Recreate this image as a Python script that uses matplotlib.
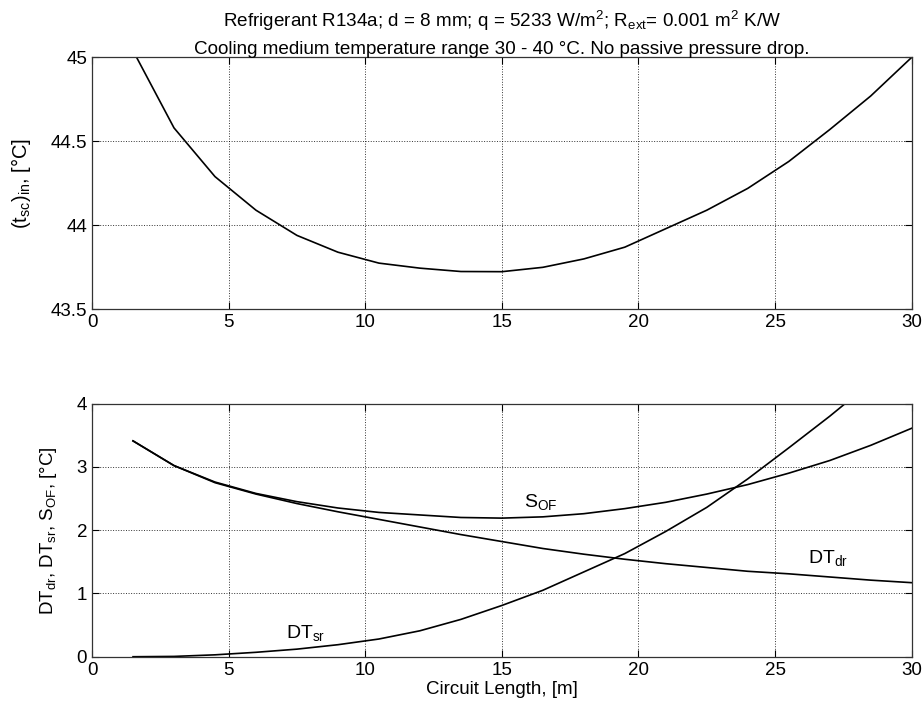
import numpy as np
import matplotlib
matplotlib.use('Agg')
import matplotlib.pyplot as plt

plt.rcParams['font.family'] = ['Liberation Sans', 'DejaVu Sans']
plt.rcParams['mathtext.fontset'] = 'custom'
plt.rcParams['mathtext.rm'] = 'Liberation Sans'
plt.rcParams['mathtext.it'] = 'Liberation Sans'
plt.rcParams['mathtext.default'] = 'regular'

# circuit length steps [m]
length = [1.5, 3.0, 4.5, 6.0, 7.5, 9.0, 10.5, 12.0, 13.5, 15.0,
          16.5, 18.0, 19.5, 21.0, 22.5, 24.0, 25.5, 27.0, 28.5, 30.0]

# subcooler inlet temperature [C]
t_sc_in = [45.04, 44.58, 44.29, 44.09, 43.94, 43.84, 43.775, 43.745, 43.725, 43.724,
           43.75, 43.80, 43.87, 43.98, 44.09, 44.22, 44.38, 44.57, 44.77, 45.0]

# temperature differences [C]
dt_dr = [3.41, 3.02, 2.75, 2.57, 2.42, 2.29, 2.17, 2.05, 1.93, 1.82,
         1.71, 1.62, 1.54, 1.47, 1.41, 1.35, 1.31, 1.26, 1.21, 1.17]
dt_sr = [0.0, 0.005, 0.03, 0.07, 0.12, 0.19, 0.28, 0.41, 0.59, 0.81,
         1.05, 1.34, 1.63, 1.98, 2.36, 2.81, 3.30, 3.80, 4.33, 4.90]
s_of = [3.41, 3.02, 2.76, 2.58, 2.45, 2.35, 2.28, 2.24, 2.20, 2.19,
        2.21, 2.26, 2.34, 2.44, 2.57, 2.72, 2.90, 3.10, 3.34, 3.61]

fs = 13.5

def style_axes(ax):
    ax.grid(True, linestyle=':', color='k', linewidth=0.7, alpha=0.8)
    ax.tick_params(direction='in', length=5, top=True, right=True,
                   labelsize=fs, width=0.8)
    for s in ax.spines.values():
        s.set_linewidth(0.9)
        s.set_color('#333333')
    ax.set_xlim(0, 30)
    ax.set_xticks(np.arange(0, 31, 5))

fig = plt.figure(figsize=(9.24, 7.07), dpi=100)
ax1 = fig.add_axes([0.0996, 0.5625, 0.8871, 0.3564])
ax2 = fig.add_axes([0.0996, 0.0711, 0.8871, 0.3581])

# upper panel: inlet temperature
ax1.plot(length, t_sc_in, color='k', linewidth=1.2)
ax1.set_ylim(43.5, 45)
ax1.set_yticks([43.5, 44, 44.5, 45])
ax1.set_yticklabels(['43.5', '44', '44.5', '45'])
style_axes(ax1)
ax1.set_ylabel(r'(t$_{sc}$)$_{in}$, [°C]', fontsize=14.5, labelpad=13)

ax1.text(0.5, 1.121, r'Refrigerant R134a; d = 8 mm; q = 5233 W/m$^2$; R$_{ext}$= 0.001 m$^2$ K/W',
         transform=ax1.transAxes, ha='center', va='baseline', fontsize=13.6)
ax1.text(0.5, 1.013, 'Cooling medium temperature range 30 - 40 °C. No passive pressure drop.',
         transform=ax1.transAxes, ha='center', va='baseline', fontsize=13.6)

# lower panel: driving / subcooling temperature differences
ax2.plot(length, dt_dr, color='k', linewidth=1.2)
ax2.plot(length, dt_sr, color='k', linewidth=1.2)
ax2.plot(length, s_of, color='k', linewidth=1.2)
ax2.set_ylim(0, 4)
ax2.set_yticks([0, 1, 2, 3, 4])
style_axes(ax2)
ax2.set_ylabel(r'DT$_{dr}$, DT$_{sr}$, S$_{OF}$, [°C]', fontsize=fs, labelpad=13)
ax2.set_xlabel('Circuit Length, [m]', fontsize=fs, labelpad=2)

ax2.text(15.8, 2.37, r'S$_{OF}$', fontsize=14, va='baseline')
ax2.text(26.2, 1.475, r'DT$_{dr}$', fontsize=14, va='baseline')
ax2.text(7.1, 0.29, r'DT$_{sr}$', fontsize=14, va='baseline')

fig.savefig('out.png', dpi=100)
